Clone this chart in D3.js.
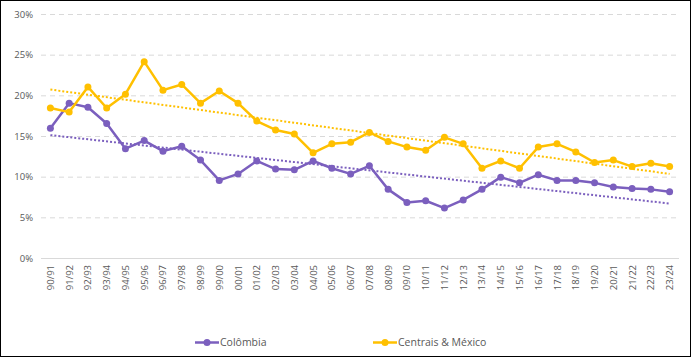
<!DOCTYPE html>
<html><head><meta charset="utf-8">
<script src="https://cdn.jsdelivr.net/npm/d3@7"></script>
<style>body{margin:0;background:#fff}svg{display:block}text{font-family:"Open Sans",Lato,sans-serif}</style>
</head><body><svg id="c" width="693" height="358"></svg>
<script>
const categories = ["90/91","91/92","92/93","93/94","94/95","95/96","96/97","97/98","98/99","99/00","00/01","01/02","02/03","03/04","04/05","05/06","06/07","07/08","08/09","09/10","10/11","11/12","12/13","13/14","14/15","15/16","16/17","17/18","18/19","19/20","20/21","21/22","22/23","23/24"];
const colombia = [16.0,19.1,18.6,16.6,13.5,14.5,13.2,13.8,12.1,9.6,10.4,12.0,11.0,10.9,12.0,11.1,10.4,11.4,8.5,6.9,7.1,6.2,7.2,8.5,10.0,9.3,10.3,9.6,9.6,9.3,8.8,8.6,8.5,8.2];
const centrais = [18.5,18.0,21.1,18.5,20.2,24.2,20.7,21.4,19.1,20.6,19.1,16.9,15.8,15.3,13.0,14.1,14.3,15.5,14.4,13.7,13.3,14.9,14.1,11.1,12.0,11.1,13.7,14.1,13.1,11.8,12.1,11.3,11.7,11.3];
const yTicks = [0,5,10,15,20,25,30];
const seriesNames = ["Colômbia","Centrais & México"];
const colors = ["#7B5FBE","#FFC000"];

const svg = d3.select("#c");
svg.append("rect").attr("x",0.5).attr("y",0.5).attr("width",690).attr("height",356).attr("fill","#fff").attr("stroke","#000").attr("stroke-width",1);

const x = d3.scaleBand().domain(categories).range([41,679]);
const y = d3.scaleLinear().domain([0,30]).range([258.5,14.5]);
const cx = d => x(d)+x.bandwidth()/2;

svg.append("g").selectAll("line").data(yTicks.filter(t=>t>0)).join("line")
  .attr("x1",41).attr("x2",679).attr("y1",d=>y(d)).attr("y2",d=>y(d))
  .attr("stroke","#d9d9d9").attr("stroke-width",1).attr("stroke-dasharray","5,4");
svg.append("line").attr("x1",41).attr("x2",679).attr("y1",y(0)).attr("y2",y(0)).attr("stroke","#d9d9d9");

svg.append("g").selectAll("text").data(yTicks).join("text")
  .attr("x",33).attr("y",d=>y(d)).attr("dy","0.35em").attr("text-anchor","end")
  .attr("font-size",9.5).attr("fill","#595959").text(d=>d+"%");

svg.append("g").selectAll("text").data(categories).join("text")
  .attr("transform",d=>`translate(${cx(d)+3.5},265) rotate(-90)`)
  .attr("text-anchor","end").attr("font-size",9.5).attr("fill","#595959").text(d=>d);

function trend(vals){
  const n=vals.length, xs=d3.range(n);
  const mx=d3.mean(xs), my=d3.mean(vals);
  let sxy=0,sxx=0; xs.forEach((xi,i)=>{sxy+=(xi-mx)*(vals[i]-my);sxx+=(xi-mx)*(xi-mx);});
  const b=sxy/sxx,a=my-b*mx; return [a, a+b*(n-1)];
}
[colombia,centrais].forEach((vals,k)=>{
  const t=trend(vals);
  svg.append("line").attr("x1",cx(categories[0])).attr("x2",cx(categories[categories.length-1]))
    .attr("y1",y(t[0])).attr("y2",y(t[1])).attr("stroke",colors[k]).attr("stroke-width",2)
    .attr("stroke-dasharray","2,2");
});

const line = d3.line().x((d,i)=>cx(categories[i])).y(d=>y(d));
[colombia,centrais].forEach((vals,k)=>{
  svg.append("path").datum(vals).attr("d",line).attr("fill","none").attr("stroke",colors[k]).attr("stroke-width",2.5).attr("stroke-linejoin","round");
  svg.append("g").selectAll("circle").data(vals).join("circle")
    .attr("cx",(d,i)=>cx(categories[i])).attr("cy",d=>y(d)).attr("r",3.5).attr("fill",colors[k]);
});

const legX=[195,373];
seriesNames.forEach((nm,k)=>{
  const g=svg.append("g").attr("transform",`translate(${legX[k]},342.5)`);
  g.append("line").attr("x1",0).attr("x2",24).attr("stroke",colors[k]).attr("stroke-width",2.5);
  g.append("circle").attr("cx",12).attr("r",3.5).attr("fill",colors[k]);
  g.append("text").attr("x",25).attr("dy","0.35em").attr("font-size",10.5).attr("fill","#595959").text(nm);
});
</script></body></html>
